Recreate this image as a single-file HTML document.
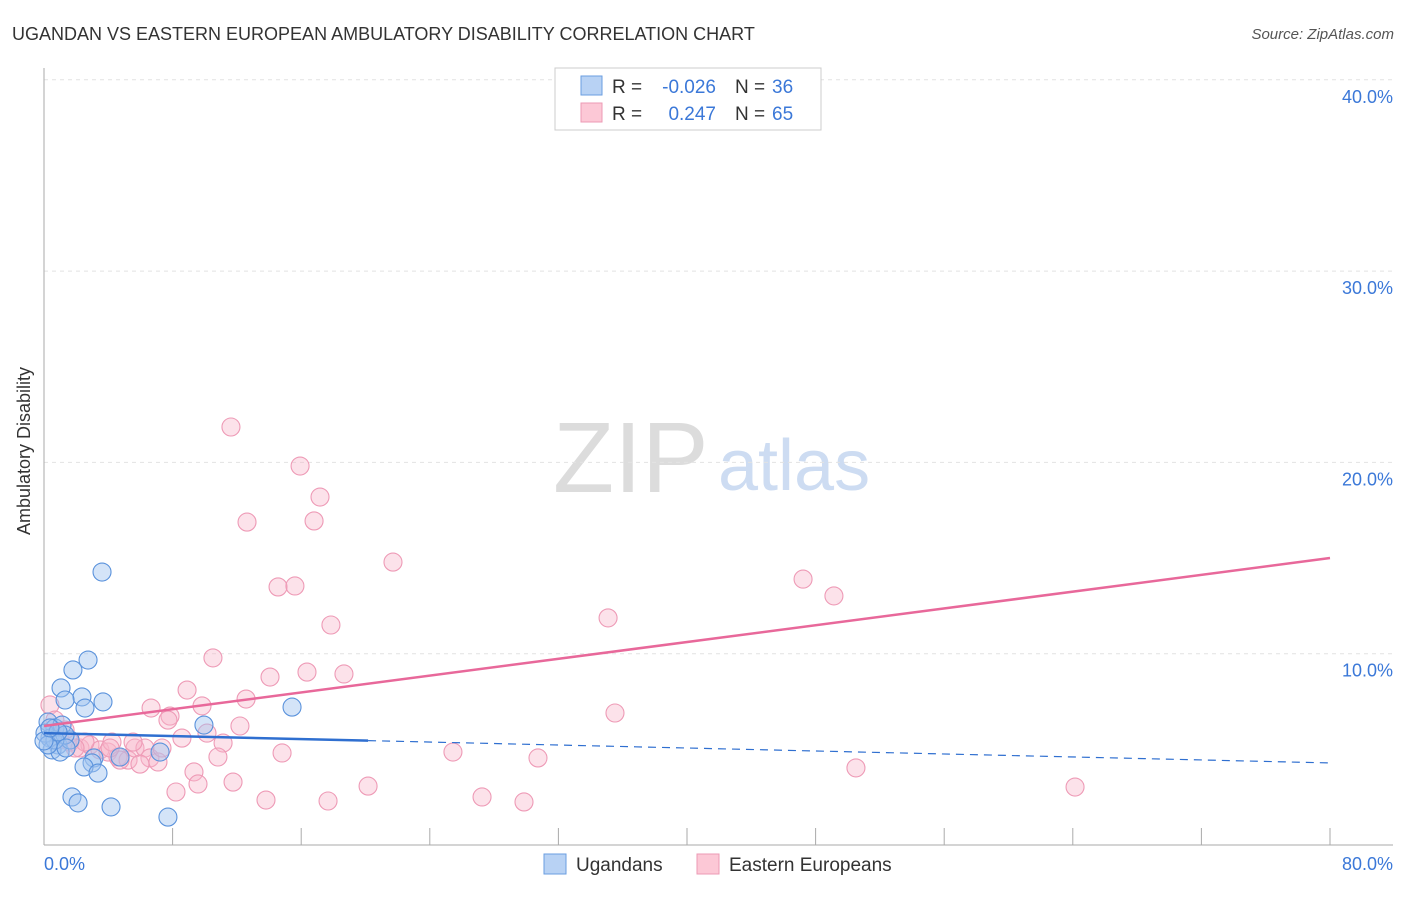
<!DOCTYPE html>
<html><head><meta charset="utf-8"><style>
body{margin:0;background:#fff;font-family:"Liberation Sans",sans-serif;}
svg text{font-family:"Liberation Sans",sans-serif;}
</style></head><body>
<svg width="1406" height="892" xmlns="http://www.w3.org/2000/svg">
<text x="12" y="40" font-size="18" fill="#333">UGANDAN VS EASTERN EUROPEAN AMBULATORY DISABILITY CORRELATION CHART</text>
<text x="1394" y="39" font-size="15" fill="#555" font-style="italic" text-anchor="end">Source: ZipAtlas.com</text>
<text x="553" y="492" font-size="100" fill="#dcdcdc" font-family="Liberation Serif">ZIP</text>
<text x="718" y="490" font-size="72" fill="#cddcf2">atlas</text>
<g id="grid"></g>
<line x1="44" y1="68" x2="44" y2="845" stroke="#aaa"/>
<line x1="44" y1="845" x2="1393" y2="845" stroke="#aaa"/>
<text x="35" y="456" font-size="18" fill="#333" text-anchor="middle" transform="rotate(-90 30 456)">Ambulatory Disability</text>
<g id="ticks"></g>
<g id="pts"></g>
<g id="lines"></g>
<g>
<rect x="555" y="68" width="266" height="62" fill="#fff" stroke="#ccc"/>
<rect x="581" y="76" width="21" height="19" fill="#b8d2f4" stroke="#6a9ee0"/>
<rect x="581" y="103" width="21" height="19" fill="#fcc8d6" stroke="#ec9ab4"/>
<text x="612" y="93" font-size="19" fill="#333">R =</text>
<text x="716" y="93" font-size="19" fill="#3b78d8" text-anchor="end">-0.026</text>
<text x="735" y="93" font-size="19" fill="#333">N =</text>
<text x="772" y="93" font-size="19" fill="#3b78d8">36</text>
<text x="612" y="120" font-size="19" fill="#333">R =</text>
<text x="716" y="120" font-size="19" fill="#3b78d8" text-anchor="end">0.247</text>
<text x="735" y="120" font-size="19" fill="#333">N =</text>
<text x="772" y="120" font-size="19" fill="#3b78d8">65</text>
</g>
<g>
<rect x="544" y="854" width="22" height="20" fill="#b8d2f4" stroke="#6a9ee0"/>
<text x="576" y="871" font-size="19" fill="#333">Ugandans</text>
<rect x="697" y="854" width="22" height="20" fill="#fcc8d6" stroke="#ec9ab4"/>
<text x="729" y="871" font-size="19" fill="#333">Eastern Europeans</text>
</g>
</svg>
<script>
const blueX=[3.61,2.74,1.80,1.06,2.36,1.31,3.67,2.55,15.43,9.95,0.25,0.68,1.12,0.37,0.87,0.50,1.00,1.62,1.31,0.06,7.22,3.11,2.99,2.49,3.36,4.73,1.74,2.12,4.17,7.71,0.68,0.25,0.87,1.37,0.0,0.37];
const blueY=[14.27,9.67,9.15,8.21,7.74,7.58,7.48,7.16,7.21,6.27,6.43,6.12,6.27,5.59,5.23,4.97,4.86,5.49,5.75,5.85,4.86,4.55,4.29,4.08,3.76,4.60,2.51,2.20,1.99,1.46,5.49,5.23,5.91,5.07,5.44,6.12];
const pinkX=[11.63,15.93,17.17,12.63,16.80,21.71,14.56,15.61,47.22,49.14,35.09,17.85,10.51,8.90,14.06,16.36,18.66,6.66,9.83,12.57,7.84,7.71,12.19,35.52,8.58,10.14,11.14,14.81,25.44,30.73,50.51,64.14,9.33,11.76,8.21,9.58,13.81,17.67,20.16,27.25,29.86,0.37,0.68,1.00,1.62,2.24,2.86,3.48,3.98,4.60,5.23,5.66,6.28,6.59,7.09,7.34,5.54,4.23,2.55,1.93,4.73,5.97,10.82,4.11,1.31];
const pinkY=[21.85,19.81,18.19,16.88,16.94,14.79,13.49,13.54,13.90,13.02,11.87,11.50,9.78,8.10,8.78,9.04,8.94,7.16,7.27,7.63,6.74,6.53,6.22,6.90,5.59,5.85,5.33,4.81,4.86,4.55,4.03,3.03,3.82,3.29,2.77,3.19,2.35,2.30,3.08,2.51,2.25,7.32,6.53,5.49,5.38,5.07,5.23,4.97,4.86,4.60,4.44,5.07,5.07,4.55,4.34,5.07,5.38,5.38,5.38,5.07,4.44,4.23,4.60,5.07,6.01];
const yTicks=[10,20,30,40];
const yTickLabels=["10.0%","20.0%","30.0%","40.0%"];
const xTicks=[0,8,16,24,32,40,48,56,64,72,80];
const pinkTrend=[6.22,15.0];
const blueTrend=[5.85,4.29];
const blueSolidEnd=20.16;
const NS="http://www.w3.org/2000/svg";
const sx=v=>44+v*16.075, sy=v=>845-v*19.13;
function mk(t,a,p){const e=document.createElementNS(NS,t);for(const k in a)e.setAttribute(k,a[k]);p.appendChild(e);return e;}
const grid=document.getElementById('grid'),ticks=document.getElementById('ticks'),pts=document.getElementById('pts'),lines=document.getElementById('lines');
yTicks.forEach((v,i)=>{
 const l=mk('line',{x1:44,x2:1393,y1:sy(v),y2:sy(v),stroke:'#e2e2e2','stroke-dasharray':'4,4'},grid);
 
 
 const t=mk('text',{x:1393,y:sy(v)+23,'font-size':18,fill:'#3b78d8','text-anchor':'end'},ticks);
 t.textContent=yTickLabels[i];
 
 
});
xTicks.forEach(v=>{if(v===0)return;
 const l=mk('line',{x1:sx(v),x2:sx(v),y1:828,y2:845,stroke:'#aaa'},ticks);
 
 
});
[["0.0%",44,'start'],["80.0%",1393,'end']].forEach(a=>{const t=mk('text',{x:a[1],y:870,'font-size':18,fill:'#3b78d8','text-anchor':a[2]},ticks);t.textContent=a[0];
 
 });
pinkX.forEach((x,i)=>{const c=mk('circle',{cx:sx(x),cy:sy(pinkY[i]),r:9,fill:'rgba(248,182,202,0.4)',stroke:'#ee9ab6','stroke-width':1.1},pts);
 
 });
blueX.forEach((x,i)=>{const c=mk('circle',{cx:sx(x),cy:sy(blueY[i]),r:9,fill:'rgba(160,196,240,0.45)',stroke:'#5a92dc','stroke-width':1.1},pts);
 
 });
const pl=mk('line',{x1:sx(0),y1:sy(pinkTrend[0]),x2:sx(80),y2:sy(pinkTrend[1]),stroke:'#e8689a','stroke-width':2.5},lines);


const by=x=>blueTrend[0]+(blueTrend[1]-blueTrend[0])*x/80;
const bl=mk('line',{x1:sx(0),y1:sy(by(0)),x2:sx(blueSolidEnd),y2:sy(by(blueSolidEnd)),stroke:'#2f6fd0','stroke-width':2.5},lines);


const bd=mk('line',{x1:sx(blueSolidEnd),y1:sy(by(blueSolidEnd)),x2:sx(80),y2:sy(by(80)),stroke:'#2f6fd0','stroke-width':1.2,'stroke-dasharray':'8,6'},lines);


</script>
</body></html>
